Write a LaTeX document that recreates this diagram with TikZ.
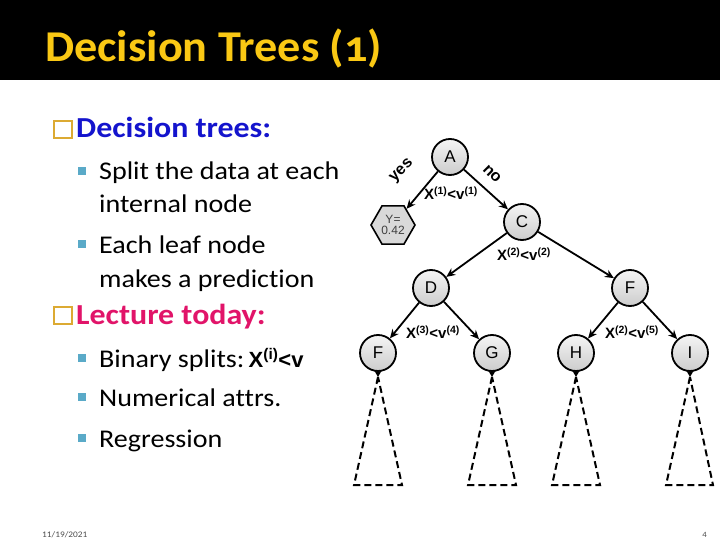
\documentclass[tikz,border=0pt]{standalone}
\usepackage{fontspec}
\setmainfont[Ligatures=NoCommon,FakeStretch=1.1]{Carlito}
\newfontfamily\titlefont[Ligatures=NoCommon,FakeStretch=1.05,Numbers=OldStyle]{Carlito}
\newfontfamily\arial{Liberation Sans}
\usetikzlibrary{shapes.geometric,arrows.meta}
\definecolor{titleyellow}{RGB}{250,200,20}
\definecolor{headblue}{RGB}{20,20,205}
\definecolor{headmag}{RGB}{225,20,105}
\definecolor{boxgold}{RGB}{220,170,50}
\definecolor{bullteal}{RGB}{90,170,200}
\tikzset{
  tnode/.style={circle,draw=black,line width=1.8pt,minimum size=36pt,inner sep=0pt,
    top color=gray!8,bottom color=gray!40,font=\arial\fontsize{17}{17}\selectfont},
  hexnode/.style={regular polygon,regular polygon sides=6,draw=black,line width=1.6pt,
    minimum size=44pt,inner sep=0pt,fill=gray!30,text=black!75,align=center,
    font=\arial\fontsize{12}{12}\selectfont},
  arr/.style={-{Stealth[length=9pt,width=8pt]},line width=1.8pt},
  elab/.style={font=\arial\bfseries\fontsize{15}{15}\selectfont,inner sep=0pt},
  rlab/.style={font=\arial\bfseries\fontsize{16}{16}\selectfont,inner sep=0pt},
  subtree/.style={dash pattern=on 7pt off 4pt,line width=2pt},
  body/.style={anchor=base west,inner sep=0pt,font=\fontsize{25.5}{25.5}\selectfont},
  head/.style={anchor=base west,inner sep=0pt,font=\bfseries\fontsize{29}{29}\selectfont},
  qbox/.style={draw=boxgold,line width=1.4pt},
}
\begin{document}
\begin{tikzpicture}[x=1pt,y=-1pt]
\useasboundingbox (0,0) rectangle (720,540);
\fill[black] (0,0) rectangle (720,80);
\node[anchor=base west,inner sep=0pt,text=titleyellow,font=\titlefont\bfseries\fontsize{44}{44}\selectfont] (title) at (45,62) {Decision Trees (1)};

% left text
\draw[qbox] (54,121) rectangle (72,138);
\node[head,text=headblue] (h1) at (76,138) {Decision trees:};
\fill[bullteal] (78,167) rectangle (86,175);
\node[body] (b1) at (99,180) {Split the data at each};
\node[body] (b1b) at (99,213) {internal node};
\fill[bullteal] (78,240) rectangle (86,248);
\node[body] (b2) at (99,253) {Each leaf node};
\node[body] (b2b) at (99,287) {makes a prediction};
\draw[qbox] (54,307) rectangle (72,324);
\node[head,text=headmag] (h2) at (76,324) {Lecture today:};
\fill[bullteal] (78,354) rectangle (86,362);
\node[body] (b3) at (99,367) {Binary splits:\,{\arial\bfseries\fontsize{22}{22}\selectfont X\textsuperscript{(i)}<v}};
\fill[bullteal] (78,393) rectangle (86,401);
\node[body] (b4) at (99,406) {Numerical attrs.};
\fill[bullteal] (78,434) rectangle (86,442);
\node[body] (b5) at (99,447) {Regression};

% tree
\node[tnode] (A) at (450,157) {A};
\node[hexnode] (Y) at (393,225) {Y=\\[-1pt]0.42};
\node[tnode] (C) at (522,222) {C};
\node[tnode] (D) at (431,288) {D};
\node[tnode] (F) at (630,288) {F};
\node[tnode] (F2) at (378,353) {F};
\node[tnode] (G) at (492,353) {G};
\node[tnode] (H) at (576,353) {H};
\node[tnode] (I) at (690,353) {I};

\draw[arr] (A) -- (Y);
\draw[arr] (A) -- (C);
\draw[arr] (C) -- (D);
\draw[arr] (C) -- (F);
\draw[arr] (D) -- (F2);
\draw[arr] (D) -- (G);
\draw[arr] (F) -- (H);
\draw[arr] (F) -- (I);

\node[rlab,rotate=45] (yes) at (402,171) {yes};
\node[rlab,rotate=-45] (no) at (492,174) {no};
\node[elab] (l1) at (451,193) {X\textsuperscript{(1)}<v\textsuperscript{(1)}};
\node[elab] (l2) at (524,254) {X\textsuperscript{(2)}<v\textsuperscript{(2)}};
\node[elab] (l3) at (433,332) {X\textsuperscript{(3)}<v\textsuperscript{(4)}};
\node[elab] (l4) at (632,332) {X\textsuperscript{(2)}<v\textsuperscript{(5)}};

% subtrees
\foreach \n/\ax/\bl/\br in {F2/378/354/402, G/492/468/516, H/576/552/600, I/690/666/713}{
  \coordinate (ap\n) at (\ax,377);
  \draw[-{Stealth[length=7pt,width=8pt]},line width=1.8pt] (\n.south) -- (ap\n);
  \draw[subtree] (ap\n) -- (\bl,485) -- (\br,485) -- cycle;
}

\node[anchor=base west,inner sep=0pt,text=black!70,font=\fontsize{8.5}{8.5}\selectfont] (date) at (42,537) {11/19/2021};
\node[anchor=base east,inner sep=0pt,text=black!70,font=\fontsize{8}{8}\selectfont] (pg) at (707,537) {4};
\end{tikzpicture}
\end{document}
